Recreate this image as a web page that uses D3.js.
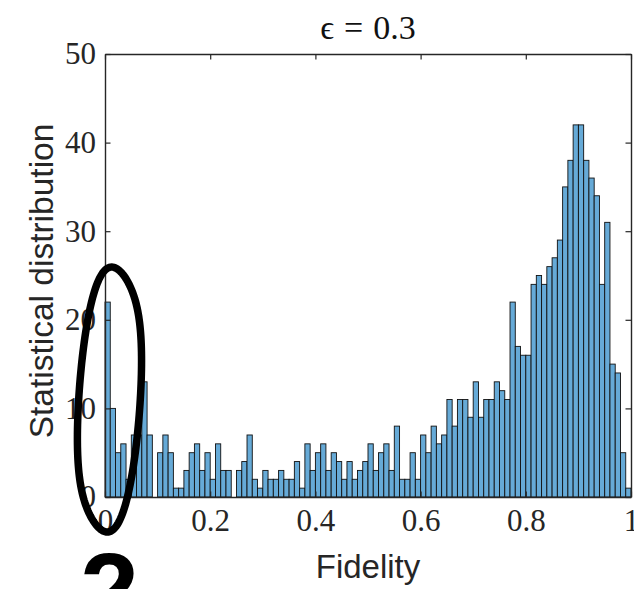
<!DOCTYPE html>
<html>
<head>
<meta charset="utf-8">
<script src="https://cdn.jsdelivr.net/npm/d3@7/dist/d3.min.js"></script>
<style>
  html, body { margin: 0; padding: 0; background: #fff; }
  svg { display: block; }
</style>
</head>
<body>
<svg id="chart" width="634" height="589"></svg>
<script>
// Histogram of fidelities: 100 equal bins on [0, 1]
const binCounts = [
  22, 10, 5, 6, 2, 7, 7, 13, 7, 0,
  5, 7, 5, 1, 1, 3, 5, 6, 3, 5,
  2, 6, 3, 3, 0, 3, 4, 7, 2, 1,
  3, 2, 2, 3, 2, 2, 4, 1, 6, 3,
  5, 6, 3, 5, 4, 2, 4, 2, 3, 4,
  6, 3, 5, 6, 3, 8, 2, 2, 5, 2,
  7, 5, 8, 6, 7, 11, 8, 11, 11, 9,
  13, 9, 11, 11, 13, 12, 11, 22, 17, 16,
  16, 24, 25, 24, 26, 27, 29, 35, 38, 42,
  42, 38, 36, 34, 24, 31, 15, 14, 5, 1
];
const xRange = [0, 1];
const yRange = [0, 50];
const xTicks = [0, 0.2, 0.4, 0.6, 0.8, 1];
const xTickLabels = ["0", "0.2", "0.4", "0.6", "0.8", "1"];
const yTicks = [0, 10, 20, 30, 40, 50];
const yTickLabels = ["0", "10", "20", "30", "40", "50"];
const titleParts = ["\u03F5", "=", "0.3"];
const xLabel = "Fidelity";
const yLabel = "Statistical distribution";
const panelLabel = "2";

const svg = d3.select("#chart");
const margin = { left: 105, right: 3, top: 54, bottom: 92 };
const W = 634, H = 589;
const plotW = W - margin.left - margin.right;
const plotH = H - margin.top - margin.bottom;

const x = d3.scaleLinear().domain(xRange).range([margin.left, margin.left + plotW]);
const y = d3.scaleLinear().domain(yRange).range([margin.top + plotH, margin.top]);

const axisColor = "#262626";
const serif = "'Liberation Serif', 'Times New Roman', serif";
const sans = "'Liberation Sans', Arial, Helvetica, sans-serif";

// bins
const nBins = binCounts.length;
const binW = (xRange[1] - xRange[0]) / nBins;
const bins = binCounts.map((c, i) => ({ x0: xRange[0] + i * binW, x1: xRange[0] + (i + 1) * binW, count: c }));

svg.append("g")
  .selectAll("rect")
  .data(bins)
  .join("rect")
  .attr("x", d => x(d.x0))
  .attr("width", d => x(d.x1) - x(d.x0))
  .attr("y", d => y(d.count))
  .attr("height", d => y(0) - y(d.count))
  .attr("fill", "rgb(102,170,215)")
  .attr("stroke", "#111")
  .attr("stroke-width", 0.9);

// axes (box style, ticks pointing inward)
const tickLen = 5.5;
function styleAxis(g) {
  g.selectAll("path.domain").attr("stroke", axisColor).attr("stroke-width", 1.4);
  g.selectAll(".tick line").attr("stroke", axisColor).attr("stroke-width", 1.2);
  g.selectAll(".tick text").attr("fill", axisColor).style("font-family", serif).style("font-size", "31px");
}

svg.append("g")
  .attr("transform", `translate(0,${y(0)})`)
  .call(d3.axisBottom(x).tickValues(xTicks).tickFormat((d, i) => xTickLabels[i])
    .tickSizeInner(-tickLen).tickSizeOuter(0).tickPadding(12))
  .call(styleAxis);

svg.append("g")
  .attr("transform", `translate(0,${y(50)})`)
  .call(d3.axisTop(x).tickValues(xTicks).tickFormat("")
    .tickSizeInner(-tickLen).tickSizeOuter(0))
  .call(styleAxis);

svg.append("g")
  .attr("transform", `translate(${x(0)},0)`)
  .call(d3.axisLeft(y).tickValues(yTicks).tickFormat((d, i) => yTickLabels[i])
    .tickSizeInner(-tickLen).tickSizeOuter(0).tickPadding(9))
  .call(styleAxis);

svg.append("g")
  .attr("transform", `translate(${x(1)},0)`)
  .call(d3.axisRight(y).tickValues(yTicks).tickFormat("")
    .tickSizeInner(-tickLen).tickSizeOuter(0))
  .call(styleAxis);

svg.selectAll(".tick text").attr("font-family", null);

// title, with math-style spacing around the relation sign
const title = svg.append("text")
  .attr("x", x(0.5)).attr("y", 39)
  .attr("text-anchor", "middle")
  .style("font-family", serif).style("font-size", "34px")
  .attr("fill", "#111");
title.append("tspan").text(titleParts[0]);
title.append("tspan").attr("dx", 10).text(titleParts[1]);
title.append("tspan").attr("dx", 10).text(titleParts[2]);

svg.append("text")
  .attr("x", x(0.5)).attr("y", 578)
  .attr("text-anchor", "middle")
  .style("font-family", sans).style("font-size", "33px")
  .attr("fill", axisColor)
  .text(xLabel);

svg.append("text")
  .attr("transform", `translate(53,${281}) rotate(-90)`)
  .attr("text-anchor", "middle")
  .style("font-family", sans).style("font-size", "33.5px")
  .attr("fill", axisColor)
  .text(yLabel);

// hand-drawn loop around the low-fidelity bins
const loopCenter = [x(0.0085), y(11)];
const loop = { rx: 32, ry: 132.5, lean: 2.2, sway: -30 };
const loopPts = d3.range(0, 2 * Math.PI, Math.PI / 90).map(u => [
  loopCenter[0] + loop.rx * Math.sin(u) + loop.lean * Math.cos(u),
  loopCenter[1] - loop.ry * Math.cos(u) + loop.sway * Math.pow(Math.sin(u), 3)
]);
svg.append("path")
  .attr("d", d3.line().curve(d3.curveLinearClosed)(loopPts))
  .attr("fill", "none")
  .attr("stroke", "#000")
  .attr("stroke-width", 7.5);

// panel number
svg.append("text")
  .attr("x", 80).attr("y", 627)
  .style("font-family", sans).style("font-weight", "bold").style("font-size", "106px")
  .attr("fill", "#000")
  .text(panelLabel);
</script>
</body>
</html>
